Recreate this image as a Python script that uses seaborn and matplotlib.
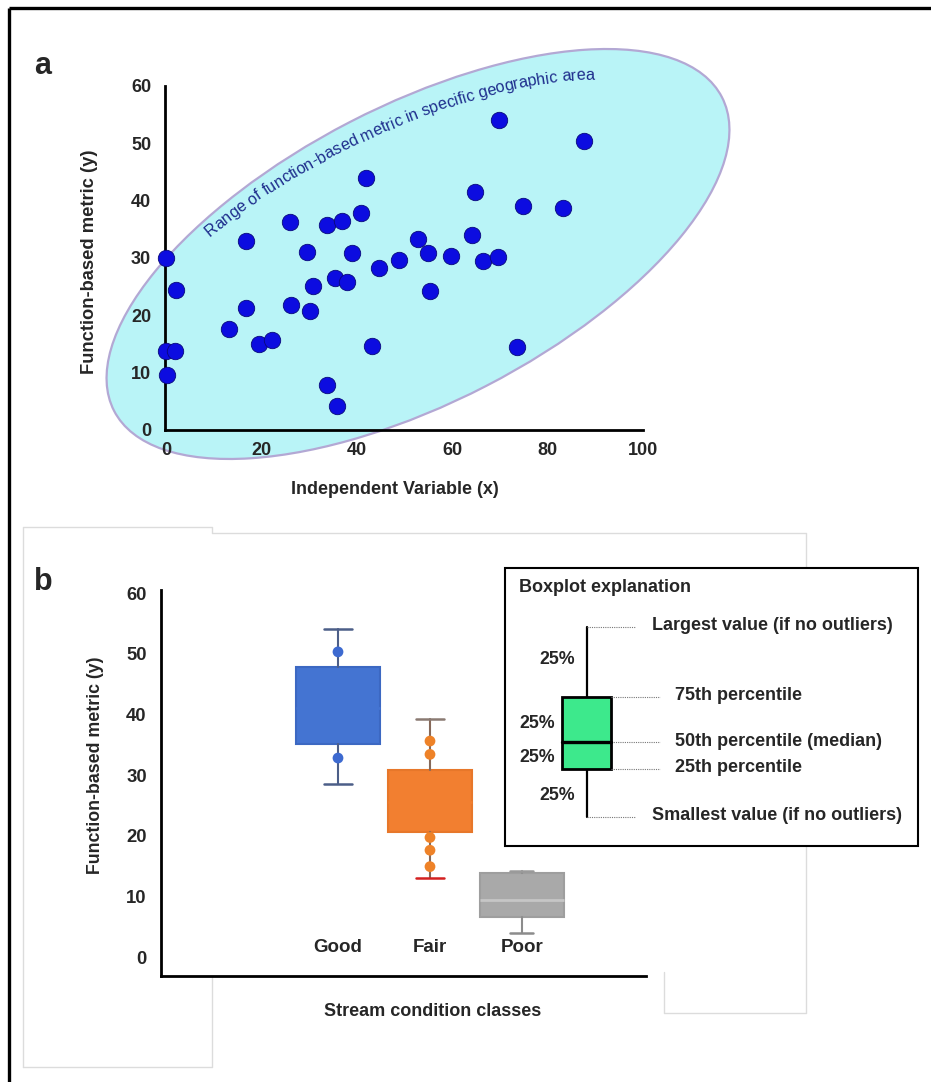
import numpy as np
import pandas as pd
import matplotlib
matplotlib.use("Agg")
import matplotlib.pyplot as plt
import seaborn as sns
from matplotlib.patches import Ellipse, Rectangle
from matplotlib.font_manager import FontProperties, findfont, get_font

# ---------------- data ----------------
# panel a : scatter
x_indep = [0.1, 2.2, 0.0, 1.9, 0.2, 13.3, 16.7, 16.7, 19.6, 22.3,
           26.0, 26.2, 29.5, 30.9, 30.2, 33.7, 37.0, 35.4, 37.9, 39.1,
           40.9, 41.9, 33.8, 35.8, 43.1, 44.7, 48.8, 52.8, 54.9, 55.3,
           59.7, 64.1, 64.8, 66.5, 69.5, 69.8, 74.9, 73.5, 83.3, 87.7]
y_metric = [30.0, 24.5, 13.7, 13.7, 9.6, 17.7, 33.0, 21.3, 15.0, 15.7,
            36.2, 21.8, 31.0, 25.1, 20.8, 35.7, 36.4, 26.5, 25.9, 30.9,
            37.8, 43.9, 7.9, 4.2, 14.7, 28.3, 29.7, 33.3, 30.8, 24.3,
            30.4, 34.0, 41.5, 29.5, 30.2, 54.0, 39.1, 14.4, 38.8, 50.4]
x_ticks_a = [0, 20, 40, 60, 80, 100]
y_ticks = [0, 10, 20, 30, 40, 50, 60]

# panel b : box plots
classes = ["Good", "Fair", "Poor"]
whisk_lo = [28.5, 13.1, 3.9]
q1 = [35.1, 20.6, 6.6]
med = [41.0, 25.5, 9.4]
q3 = [47.8, 30.8, 13.8]
whisk_hi = [54.0, 39.2, 14.2]
pt_class = ["Good", "Good", "Fair", "Fair", "Fair", "Fair", "Fair"]
pt_value = [50.3, 32.8, 35.6, 33.4, 19.7, 17.6, 14.9]

# explanation legend texts
expl_title = "Boxplot explanation"
expl_labels = ["Largest value (if no outliers)", "75th percentile",
               "50th percentile (median)", "25th percentile",
               "Smallest value (if no outliers)"]
curve_text = "Range of function-based metric in specific geographic area"

# ---------------- style ----------------
sns.set_theme(style="white")
FAM = ["Liberation Sans", "DejaVu Sans"]
plt.rcParams["font.family"] = FAM

W, H = 931, 1082
fig = plt.figure(figsize=(W / 100, H / 100), dpi=100)
fig.patch.set_facecolor("white")

bg = fig.add_axes([0, 0, 1, 1], zorder=0)
bg.set_xlim(0, W)
bg.set_ylim(H, 0)
bg.axis("off")


def px_axes(x0, y0, x1, y1, **kw):
    ax = fig.add_axes([x0 / W, 1 - y1 / H, (x1 - x0) / W, (y1 - y0) / H], **kw)
    ax.patch.set_alpha(0)
    return ax


# outer frame and faint scan outlines
bg.plot([9, W], [8, 8], color="black", lw=2.4, solid_capstyle="butt")
bg.plot([9, 9], [8, H], color="black", lw=2.4, solid_capstyle="butt")
grey = "#dcdcdc"
bg.plot([23, 23, 212, 212, 806, 806], [1067, 527, 527, 533, 533, 568], color=grey, lw=1)
bg.plot([23, 212, 212], [1067, 1067, 976], color=grey, lw=1)
bg.plot([664, 664, 806, 806], [972, 1013, 1013, 846], color=grey, lw=1)

# ---------------- panel a ----------------
E_CX, E_CY, E_W, E_H, E_ANG = 418, 254, 684, 297, 27.3
bg.add_patch(Ellipse((E_CX, E_CY), E_W, E_H, angle=-E_ANG, facecolor="#b9f4f7",
                     edgecolor="#b3a8d4", lw=1.6, zorder=1))

# curved label along the inside of the ellipse
t_start, t_stop = 123.0, 40.0
off_start, off_stop = 17.0, 33.0
ts_deg = np.linspace(t_start, t_stop, 3000)
offs = np.interp(ts_deg, [t_stop, t_start], [off_stop, off_start])
ts = np.radians(ts_deg)
phi = np.radians(E_ANG)
a_in = E_W / 2 - offs
b_in = E_H / 2 - offs
xu = a_in * np.cos(ts) * np.cos(phi) - b_in * np.sin(ts) * np.sin(phi)
yu = a_in * np.cos(ts) * np.sin(phi) + b_in * np.sin(ts) * np.cos(phi)
cpx, cpy = E_CX + xu, E_CY - yu
arc = np.concatenate([[0], np.cumsum(np.hypot(np.diff(cpx), np.diff(cpy)))])

font = get_font(findfont(FontProperties(family="Liberation Sans", size=10)))
font.set_size(10, 100)
advs = []
for ch in curve_text:
    g = font.load_char(ord(ch))
    advs.append(g.linearHoriAdvance / 65536)
advs = np.array(advs)
scale = arc[-1] / advs.sum()
fs_curve = 10 * scale
advs = advs * scale
starts = np.concatenate([[0], np.cumsum(advs)[:-1]])
for ch, st, ad in zip(curve_text, starts, advs):
    d = st + ad / 2
    xi = np.interp(d, arc, cpx)
    yi = np.interp(d, arc, cpy)
    k = int(np.clip(np.searchsorted(arc, d), 1, len(arc) - 1))
    ang = np.degrees(np.arctan2(-(cpy[k] - cpy[k - 1]), cpx[k] - cpx[k - 1]))
    bg.text(xi, yi, ch, rotation=ang, rotation_mode="anchor", ha="center",
            va="baseline", fontsize=fs_curve, family="Liberation Sans",
            color="#1d2c8c", zorder=2)

axa = px_axes(165, 86, 643, 430, zorder=1)
dfa = pd.DataFrame({"x": x_indep, "y": y_metric})
sns.scatterplot(data=dfa, x="x", y="y", ax=axa, s=140, color="#0c0ce0",
                edgecolor="#08087a", linewidth=0.6, clip_on=False, zorder=3)
axa.set_xlim(-0.2, 100)
axa.set_ylim(0, 60)
axa.set_xticks(x_ticks_a)
axa.set_yticks(y_ticks)
for sp in ["top", "right"]:
    axa.spines[sp].set_visible(False)
for sp in ["left", "bottom"]:
    axa.spines[sp].set_color("black")
    axa.spines[sp].set_linewidth(2)
axa.tick_params(axis="x", length=0, pad=9, labelsize=13)
axa.tick_params(axis="y", length=0, pad=10, labelsize=13)
for lb in axa.get_xticklabels() + axa.get_yticklabels():
    lb.set_fontweight("bold")
axa.set_xlabel("Independent Variable (x)", fontsize=13, fontweight="bold")
axa.set_ylabel("Function-based metric (y)", fontsize=13.2, fontweight="bold")
axa.xaxis.label.set_va("center")
axa.xaxis.set_label_coords((395 - 165) / 478, (430 - 490) / 344)
axa.yaxis.label.set_va("center")
axa.yaxis.label.set_rotation_mode("default")
axa.yaxis.set_label_coords((90 - 165) / 478, (430 - 262) / 344)
axa.grid(False)
bg.text(43, 66, "a", fontsize=22, fontweight="heavy", ha="center", va="center")

# ---------------- panel b ----------------
axb = px_axes(161, 590, 646, 976, zorder=1)
stats = [dict(label=c, whislo=wl, q1=a, med=m, q3=b, whishi=wh, fliers=[])
         for c, wl, a, m, b, wh in zip(classes, whisk_lo, q1, med, q3, whisk_hi)]
bp = axb.bxp(stats, positions=[0, 1, 2], widths=0.92, capwidths=[0.3, 0.3, 0.25],
             patch_artist=True, showfliers=False)
face = ["#4474d2", "#f27f30", "#a9a9a9"]
edge = ["#3c68c2", "#e7772a", "#9e9e9e"]
medc = ["#4474d2", "#f27f30", "#c6c6c6"]
whc = ["#4c5e88", "#86695a", "#8c8c8c"]
capc = [["#4c5e88", "#4c5e88"], ["#d42020", "#8a7a72"], ["#8c8c8c", "#9a9a9a"]]
for i in range(3):
    bp["boxes"][i].set_facecolor(face[i])
    bp["boxes"][i].set_edgecolor(edge[i])
    bp["boxes"][i].set_linewidth(1.5)
    bp["medians"][i].set_color(medc[i])
    bp["medians"][i].set_linewidth(2)
    for j in range(2):
        bp["whiskers"][2 * i + j].set_color(whc[i])
        bp["whiskers"][2 * i + j].set_linewidth(1.5)
        bp["caps"][2 * i + j].set_color(capc[i][j])
        bp["caps"][2 * i + j].set_linewidth(1.8)

dfb = pd.DataFrame({"pos": [classes.index(c) for c in pt_class],
                    "value": pt_value, "cls": pt_class})
sns.scatterplot(data=dfb, x="pos", y="value", hue="cls", ax=axb, s=60,
                palette={"Good": "#3d6ad0", "Fair": "#ee8228"},
                edgecolor="none", legend=False, zorder=4)
axb.set_xlim(-1.924, 3.348)
axb.set_ylim(-3.13, 60.5)
axb.set_yticks(y_ticks)
axb.set_xticks([0, 1, 2])
axb.set_xticklabels(classes)
for sp in ["top", "right"]:
    axb.spines[sp].set_visible(False)
for sp in ["left", "bottom"]:
    axb.spines[sp].set_color("black")
    axb.spines[sp].set_linewidth(2)
axb.tick_params(axis="x", length=0, pad=-27, labelsize=13.5)
axb.tick_params(axis="y", length=0, pad=10.3, labelsize=13.3)
for lb in axb.get_xticklabels() + axb.get_yticklabels():
    lb.set_fontweight("bold")
axb.set_xlabel("Stream condition classes", fontsize=13, fontweight="bold")
axb.set_ylabel("Function-based metric (y)", fontsize=12.8, fontweight="bold")
axb.xaxis.label.set_va("center")
axb.xaxis.set_label_coords((433 - 161) / 485, (976 - 1011) / 386)
axb.yaxis.label.set_va("center")
axb.yaxis.label.set_rotation_mode("default")
axb.yaxis.set_label_coords((95 - 161) / 485, (976 - 765) / 386)
axb.grid(False)
bg.text(43, 582, "b", fontsize=22, fontweight="heavy", ha="center", va="center")

# ---------------- explanation box ----------------
bg.add_patch(Rectangle((505, 568), 413, 278, facecolor="white", edgecolor="black",
                       lw=1.5, zorder=2))
bg.text(519, 588, expl_title, fontsize=13, fontweight="bold", ha="left",
        va="center", zorder=3)
bg.plot([587, 587], [627, 697], color="black", lw=1.6, zorder=3)
bg.plot([587, 587], [769, 817], color="black", lw=1.6, zorder=3)
bg.add_patch(Rectangle((562, 697), 49, 72, facecolor="#3de98c", edgecolor="black",
                       lw=2, zorder=3))
bg.plot([562, 611], [742, 742], color="black", lw=2.4, zorder=4)
lead_y = [627, 697, 742, 769, 817]
lead_x0 = [587, 611, 611, 611, 587]
lead_x1 = [635, 660, 660, 660, 635]
txt_x = [652, 675, 675, 675, 652]
for y, x0, x1, tx, lab in zip(lead_y, lead_x0, lead_x1, txt_x, expl_labels):
    bg.plot([x0, x1], [y, y], color="#777777", lw=0.8, ls=(0, (1, 1)), zorder=3)
    bg.text(tx, y - 1, lab, fontsize=13, fontweight="bold", ha="left",
            va="center", zorder=3)
for (x, y) in [(557, 660), (537, 723), (537, 757), (557, 795)]:
    bg.text(x, y, "25%", fontsize=12.8, fontweight="bold", ha="center",
            va="center", zorder=3)

fig.savefig("out.png", dpi=100, facecolor="white")
